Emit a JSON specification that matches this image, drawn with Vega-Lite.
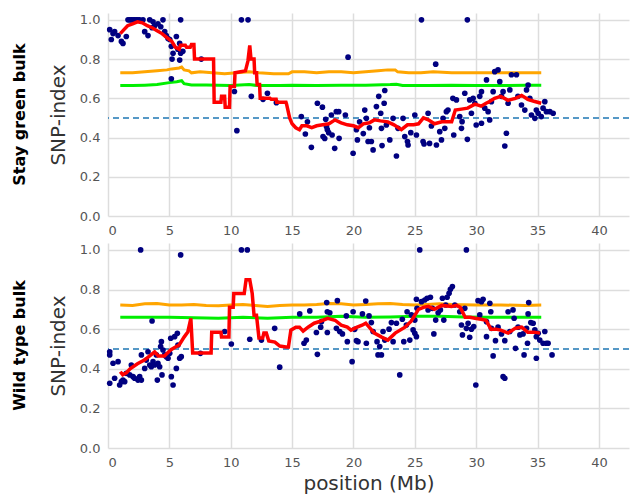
{
"$schema": "https://vega.github.io/schema/vega-lite/v6.json",
"background": "white",
"padding": {"left": 12, "top": 13, "right": 0, "bottom": 2},
"config": {
  "view": {"stroke": null},
  "font": "DejaVu Sans",
  "axis": {"grid": true, "gridColor": "#dddddd", "gridWidth": 1.5, "domain": false, "ticks": false, "labelFontSize": 13, "labelColor": "#555555", "titleFontSize": 20, "titleFontWeight": "normal", "titleColor": "#333333", "labelPadding": 8, "titlePadding": 11},
  "concat": {"spacing": 6}
},
"datasets": {
"sg": [
{"s":"ref","x":0,"y":0.5},
{"s":"p","x":0.14,"y":0.95},{"s":"p","x":0.27,"y":0.90},{"s":"p","x":0.41,"y":0.93},{"s":"p","x":0.54,"y":0.94},{"s":"p","x":0.82,"y":0.92},{"s":"p","x":1.09,"y":0.89},{"s":"p","x":1.22,"y":0.88},{"s":"p","x":1.49,"y":0.915},{"s":"p","x":1.63,"y":1.0},{"s":"p","x":1.77,"y":1.0},{"s":"p","x":1.9,"y":1.0},{"s":"p","x":2.04,"y":1.0},{"s":"p","x":2.17,"y":1.0},{"s":"p","x":2.31,"y":1.0},{"s":"p","x":2.44,"y":1.0},{"s":"p","x":2.58,"y":1.0},{"s":"p","x":2.85,"y":1.0},{"s":"p","x":2.99,"y":0.94},{"s":"p","x":3.26,"y":0.92},{"s":"p","x":3.4,"y":1.0},{"s":"p","x":3.59,"y":0.96},{"s":"p","x":3.67,"y":0.99},{"s":"p","x":3.8,"y":0.97},{"s":"p","x":4.07,"y":0.98},{"s":"p","x":4.3,"y":0.965},{"s":"p","x":4.48,"y":1.0},{"s":"p","x":4.62,"y":0.94},{"s":"p","x":4.75,"y":0.92},{"s":"p","x":4.89,"y":0.905},{"s":"p","x":5.03,"y":0.90},{"s":"p","x":5.16,"y":0.865},{"s":"p","x":5.22,"y":0.80},{"s":"p","x":5.3,"y":0.83},{"s":"p","x":5.57,"y":0.915},{"s":"p","x":5.7,"y":0.85},{"s":"p","x":5.84,"y":0.88},{"s":"p","x":5.84,"y":0.795},{"s":"p","x":5.92,"y":0.83},{"s":"p","x":5.92,"y":1.0},{"s":"p","x":6.1,"y":0.84},{"s":"p","x":5.16,"y":0.70},{"s":"p","x":7.6,"y":0.80},{"s":"p","x":10.3,"y":0.635},{"s":"p","x":10.5,"y":0.435},{"s":"p","x":10.87,"y":1.0},{"s":"p","x":11.41,"y":1.0},{"s":"p","x":11.68,"y":0.61},{"s":"p","x":12.63,"y":0.595},{"s":"p","x":12.99,"y":0.626},{"s":"p","x":13.72,"y":0.578},{"s":"p","x":15.75,"y":0.507},{"s":"p","x":16.08,"y":0.418},{"s":"p","x":16.25,"y":0.48},{"s":"p","x":16.57,"y":0.35},{"s":"p","x":17.06,"y":0.575},{"s":"p","x":17.47,"y":0.555},{"s":"p","x":17.52,"y":0.405},{"s":"p","x":17.66,"y":0.395},{"s":"p","x":17.74,"y":0.493},{"s":"p","x":17.8,"y":0.456},{"s":"p","x":17.87,"y":0.44},{"s":"p","x":17.98,"y":0.425},{"s":"p","x":18.2,"y":0.515},{"s":"p","x":18.26,"y":0.413},{"s":"p","x":18.47,"y":0.345},{"s":"p","x":18.6,"y":0.532},{"s":"p","x":18.8,"y":0.532},{"s":"p","x":18.83,"y":0.396},{"s":"p","x":19.34,"y":0.515},{"s":"p","x":19.56,"y":0.81},{"s":"p","x":19.97,"y":0.32},{"s":"p","x":20.24,"y":0.44},{"s":"p","x":20.32,"y":0.388},{"s":"p","x":20.5,"y":0.48},{"s":"p","x":20.8,"y":0.42},{"s":"p","x":20.92,"y":0.54},{"s":"p","x":21.05,"y":0.498},{"s":"p","x":21.19,"y":0.38},{"s":"p","x":21.3,"y":0.45},{"s":"p","x":21.46,"y":0.38},{"s":"p","x":21.6,"y":0.337},{"s":"p","x":21.87,"y":0.558},{"s":"p","x":22.06,"y":0.61},{"s":"p","x":22.22,"y":0.524},{"s":"p","x":22.28,"y":0.447},{"s":"p","x":22.33,"y":0.359},{"s":"p","x":22.5,"y":0.575},{"s":"p","x":22.55,"y":0.64},{"s":"p","x":22.68,"y":0.464},{"s":"p","x":22.96,"y":0.388},{"s":"p","x":23.23,"y":0.498},{"s":"p","x":23.5,"y":0.306},{"s":"p","x":23.63,"y":0.447},{"s":"p","x":24.04,"y":0.498},{"s":"p","x":24.18,"y":0.405},{"s":"p","x":24.4,"y":0.38},{"s":"p","x":24.45,"y":0.362},{"s":"p","x":24.67,"y":0.425},{"s":"p","x":25.0,"y":0.515},{"s":"p","x":25.13,"y":0.413},{"s":"p","x":25.54,"y":1.0},{"s":"p","x":25.67,"y":0.38},{"s":"p","x":25.75,"y":0.367},{"s":"p","x":26.08,"y":0.524},{"s":"p","x":26.2,"y":0.37},{"s":"p","x":26.35,"y":0.459},{"s":"p","x":26.7,"y":0.774},{"s":"p","x":26.76,"y":0.362},{"s":"p","x":27.03,"y":0.43},{"s":"p","x":27.17,"y":0.388},{"s":"p","x":27.3,"y":0.498},{"s":"p","x":27.44,"y":0.447},{"s":"p","x":27.57,"y":0.532},{"s":"p","x":27.7,"y":0.54},{"s":"p","x":28.1,"y":0.6},{"s":"p","x":28.17,"y":0.413},{"s":"p","x":28.39,"y":0.592},{"s":"p","x":28.66,"y":0.507},{"s":"p","x":28.8,"y":0.447},{"s":"p","x":28.85,"y":0.481},{"s":"p","x":29.07,"y":0.626},{"s":"p","x":29.28,"y":1.0},{"s":"p","x":29.28,"y":0.391},{"s":"p","x":29.47,"y":0.592},{"s":"p","x":29.61,"y":0.524},{"s":"p","x":29.75,"y":0.6},{"s":"p","x":29.89,"y":0.575},{"s":"p","x":30.0,"y":0.464},{"s":"p","x":30.29,"y":0.61},{"s":"p","x":30.43,"y":0.473},{"s":"p","x":30.43,"y":0.634},{"s":"p","x":30.7,"y":0.55},{"s":"p","x":30.84,"y":0.694},{"s":"p","x":30.97,"y":0.532},{"s":"p","x":31.1,"y":0.49},{"s":"p","x":31.24,"y":0.583},{"s":"p","x":31.38,"y":0.634},{"s":"p","x":31.51,"y":0.736},{"s":"p","x":31.78,"y":0.745},{"s":"p","x":31.92,"y":0.685},{"s":"p","x":32.06,"y":0.61},{"s":"p","x":32.19,"y":0.634},{"s":"p","x":32.33,"y":0.357},{"s":"p","x":32.46,"y":0.422},{"s":"p","x":32.6,"y":0.575},{"s":"p","x":32.74,"y":0.643},{"s":"p","x":32.87,"y":0.72},{"s":"p","x":33.28,"y":0.72},{"s":"p","x":33.4,"y":0.61},{"s":"p","x":33.69,"y":0.566},{"s":"p","x":33.96,"y":0.54},{"s":"p","x":34.1,"y":0.643},{"s":"p","x":34.23,"y":0.668},{"s":"p","x":34.37,"y":0.6},{"s":"p","x":34.5,"y":0.515},{"s":"p","x":34.78,"y":0.498},{"s":"p","x":34.9,"y":0.54},{"s":"p","x":35.05,"y":0.524},{"s":"p","x":35.3,"y":0.507},{"s":"p","x":35.45,"y":0.55},{"s":"p","x":35.59,"y":0.583},{"s":"p","x":35.72,"y":0.532},{"s":"p","x":36.0,"y":0.532},{"s":"p","x":36.27,"y":0.524},
{"s":"r","x":1.0,"y":0.93},{"s":"r","x":1.3,"y":0.95},{"s":"r","x":1.6,"y":0.97},{"s":"r","x":2.0,"y":0.98},{"s":"r","x":2.4,"y":0.99},{"s":"r","x":2.8,"y":0.985},{"s":"r","x":3.2,"y":0.97},{"s":"r","x":3.6,"y":0.96},{"s":"r","x":4.0,"y":0.945},{"s":"r","x":4.4,"y":0.93},{"s":"r","x":4.8,"y":0.91},{"s":"r","x":5.2,"y":0.89},{"s":"r","x":5.5,"y":0.86},{"s":"r","x":5.8,"y":0.85},{"s":"r","x":5.9,"y":0.87},{"s":"r","x":6.3,"y":0.87},{"s":"r","x":6.4,"y":0.86},{"s":"r","x":6.7,"y":0.86},{"s":"r","x":6.8,"y":0.875},{"s":"r","x":7.0,"y":0.875},{"s":"r","x":7.05,"y":0.80},{"s":"r","x":8.6,"y":0.80},{"s":"r","x":8.65,"y":0.58},{"s":"r","x":9.2,"y":0.58},{"s":"r","x":9.25,"y":0.61},{"s":"r","x":9.5,"y":0.61},{"s":"r","x":9.55,"y":0.555},{"s":"r","x":9.9,"y":0.555},{"s":"r","x":9.95,"y":0.66},{"s":"r","x":10.3,"y":0.66},{"s":"r","x":10.35,"y":0.73},{"s":"r","x":10.8,"y":0.735},{"s":"r","x":11.2,"y":0.74},{"s":"r","x":11.4,"y":0.79},{"s":"r","x":11.55,"y":0.87},{"s":"r","x":11.65,"y":0.80},{"s":"r","x":11.9,"y":0.80},{"s":"r","x":11.95,"y":0.73},{"s":"r","x":12.1,"y":0.73},{"s":"r","x":12.15,"y":0.67},{"s":"r","x":12.35,"y":0.67},{"s":"r","x":12.4,"y":0.60},{"s":"r","x":13.2,"y":0.60},{"s":"r","x":13.3,"y":0.595},{"s":"r","x":13.7,"y":0.595},{"s":"r","x":13.75,"y":0.58},{"s":"r","x":14.5,"y":0.58},{"s":"r","x":14.55,"y":0.57},{"s":"r","x":14.8,"y":0.50},{"s":"r","x":15.0,"y":0.47},{"s":"r","x":15.3,"y":0.45},{"s":"r","x":15.6,"y":0.44},{"s":"r","x":15.8,"y":0.46},{"s":"r","x":16.2,"y":0.46},{"s":"r","x":16.6,"y":0.45},{"s":"r","x":17.0,"y":0.46},{"s":"r","x":17.5,"y":0.465},{"s":"r","x":18.0,"y":0.47},{"s":"r","x":18.5,"y":0.49},{"s":"r","x":19.0,"y":0.475},{"s":"r","x":19.5,"y":0.465},{"s":"r","x":20.0,"y":0.46},{"s":"r","x":20.4,"y":0.45},{"s":"r","x":20.8,"y":0.47},{"s":"r","x":21.3,"y":0.475},{"s":"r","x":21.7,"y":0.49},{"s":"r","x":22.2,"y":0.485},{"s":"r","x":22.8,"y":0.48},{"s":"r","x":23.3,"y":0.465},{"s":"r","x":23.9,"y":0.44},{"s":"r","x":24.4,"y":0.465},{"s":"r","x":24.9,"y":0.465},{"s":"r","x":25.3,"y":0.47},{"s":"r","x":25.7,"y":0.50},{"s":"r","x":26.1,"y":0.49},{"s":"r","x":26.6,"y":0.47},{"s":"r","x":27.2,"y":0.48},{"s":"r","x":28.0,"y":0.48},{"s":"r","x":28.3,"y":0.54},{"s":"r","x":28.8,"y":0.545},{"s":"r","x":29.3,"y":0.55},{"s":"r","x":29.9,"y":0.57},{"s":"r","x":30.4,"y":0.56},{"s":"r","x":30.8,"y":0.575},{"s":"r","x":31.0,"y":0.58},{"s":"r","x":31.5,"y":0.60},{"s":"r","x":32.0,"y":0.61},{"s":"r","x":32.6,"y":0.59},{"s":"r","x":33.2,"y":0.60},{"s":"r","x":33.7,"y":0.615},{"s":"r","x":34.2,"y":0.595},{"s":"r","x":34.7,"y":0.585},{"s":"r","x":35.3,"y":0.575},
{"s":"o","x":1.0,"y":0.73},{"s":"o","x":2,"y":0.73},{"s":"o","x":3,"y":0.735},{"s":"o","x":4,"y":0.74},{"s":"o","x":4.8,"y":0.745},{"s":"o","x":5.2,"y":0.75},{"s":"o","x":5.8,"y":0.755},{"s":"o","x":6.0,"y":0.76},{"s":"o","x":6.2,"y":0.745},{"s":"o","x":6.6,"y":0.74},{"s":"o","x":6.8,"y":0.73},{"s":"o","x":7.5,"y":0.735},{"s":"o","x":8.5,"y":0.73},{"s":"o","x":9.5,"y":0.725},{"s":"o","x":10.5,"y":0.73},{"s":"o","x":11.5,"y":0.735},{"s":"o","x":12.3,"y":0.73},{"s":"o","x":13.5,"y":0.725},{"s":"o","x":14.7,"y":0.725},{"s":"o","x":15.0,"y":0.735},{"s":"o","x":16,"y":0.735},{"s":"o","x":17,"y":0.73},{"s":"o","x":18,"y":0.735},{"s":"o","x":19,"y":0.735},{"s":"o","x":20,"y":0.73},{"s":"o","x":21,"y":0.735},{"s":"o","x":22,"y":0.74},{"s":"o","x":22.8,"y":0.745},{"s":"o","x":23.4,"y":0.745},{"s":"o","x":23.6,"y":0.735},{"s":"o","x":24.5,"y":0.73},{"s":"o","x":25.5,"y":0.73},{"s":"o","x":26.5,"y":0.735},{"s":"o","x":28,"y":0.73},{"s":"o","x":30,"y":0.73},{"s":"o","x":32,"y":0.73},{"s":"o","x":34,"y":0.73},{"s":"o","x":35.3,"y":0.73},
{"s":"g","x":1.0,"y":0.665},{"s":"g","x":2,"y":0.665},{"s":"g","x":3,"y":0.667},{"s":"g","x":4,"y":0.67},{"s":"g","x":5,"y":0.68},{"s":"g","x":5.6,"y":0.685},{"s":"g","x":6.0,"y":0.69},{"s":"g","x":6.2,"y":0.675},{"s":"g","x":6.8,"y":0.668},{"s":"g","x":8,"y":0.668},{"s":"g","x":10,"y":0.665},{"s":"g","x":11.5,"y":0.67},{"s":"g","x":12.2,"y":0.665},{"s":"g","x":14,"y":0.665},{"s":"g","x":15,"y":0.667},{"s":"g","x":17,"y":0.665},{"s":"g","x":19,"y":0.667},{"s":"g","x":21,"y":0.667},{"s":"g","x":23,"y":0.67},{"s":"g","x":23.5,"y":0.672},{"s":"g","x":24,"y":0.665},{"s":"g","x":26,"y":0.665},{"s":"g","x":28,"y":0.667},{"s":"g","x":30,"y":0.665},{"s":"g","x":32,"y":0.665},{"s":"g","x":34,"y":0.667},{"s":"g","x":35.3,"y":0.667}
],
"wt": [
{"s":"ref","x":0,"y":0.5},
{"s":"p","x":0.14,"y":0.486},{"s":"p","x":0.14,"y":0.47},{"s":"p","x":0.14,"y":0.327},{"s":"p","x":0.41,"y":0.428},{"s":"p","x":0.54,"y":0.352},{"s":"p","x":0.82,"y":0.436},{"s":"p","x":0.95,"y":0.318},{"s":"p","x":1.09,"y":0.335},{"s":"p","x":1.22,"y":0.343},{"s":"p","x":1.36,"y":0.335},{"s":"p","x":1.49,"y":0.377},{"s":"p","x":1.77,"y":0.369},{"s":"p","x":1.9,"y":0.419},{"s":"p","x":2.04,"y":0.36},{"s":"p","x":2.17,"y":0.352},{"s":"p","x":2.44,"y":0.343},{"s":"p","x":2.58,"y":0.36},{"s":"p","x":2.72,"y":0.343},{"s":"p","x":2.66,"y":1.0},{"s":"p","x":2.72,"y":0.47},{"s":"p","x":2.99,"y":0.402},{"s":"p","x":3.12,"y":0.444},{"s":"p","x":3.26,"y":0.486},{"s":"p","x":3.4,"y":0.419},{"s":"p","x":3.53,"y":0.41},{"s":"p","x":3.59,"y":0.641},{"s":"p","x":3.67,"y":0.436},{"s":"p","x":3.8,"y":0.419},{"s":"p","x":3.94,"y":0.47},{"s":"p","x":4.02,"y":0.343},{"s":"p","x":4.07,"y":0.428},{"s":"p","x":4.21,"y":0.41},{"s":"p","x":4.29,"y":0.512},{"s":"p","x":4.35,"y":0.537},{"s":"p","x":4.4,"y":0.369},{"s":"p","x":4.48,"y":0.495},{"s":"p","x":4.62,"y":0.47},{"s":"p","x":4.75,"y":0.461},{"s":"p","x":4.89,"y":0.453},{"s":"p","x":5.03,"y":0.478},{"s":"p","x":5.11,"y":0.554},{"s":"p","x":5.16,"y":0.36},{"s":"p","x":5.3,"y":0.318},{"s":"p","x":5.43,"y":0.562},{"s":"p","x":5.57,"y":0.402},{"s":"p","x":5.65,"y":0.579},{"s":"p","x":5.7,"y":0.52},{"s":"p","x":5.84,"y":0.453},{"s":"p","x":5.92,"y":0.975},{"s":"p","x":5.97,"y":0.461},{"s":"p","x":7.53,"y":0.478},{"s":"p","x":9.51,"y":0.588},{"s":"p","x":10.05,"y":0.525},{"s":"p","x":10.87,"y":1.0},{"s":"p","x":11.35,"y":1.0},{"s":"p","x":11.55,"y":0.549},{"s":"p","x":12.5,"y":0.545},{"s":"p","x":13.58,"y":0.604},{"s":"p","x":13.99,"y":0.408},{"s":"p","x":15.62,"y":0.677},{"s":"p","x":15.97,"y":0.529},{"s":"p","x":16.16,"y":0.545},{"s":"p","x":16.44,"y":0.692},{"s":"p","x":16.98,"y":0.583},{"s":"p","x":17.06,"y":0.473},{"s":"p","x":17.33,"y":0.61},{"s":"p","x":17.39,"y":0.638},{"s":"p","x":17.82,"y":0.734},{"s":"p","x":17.87,"y":0.688},{"s":"p","x":17.87,"y":0.583},{"s":"p","x":18.07,"y":0.683},{"s":"p","x":18.61,"y":0.604},{"s":"p","x":18.69,"y":0.744},{"s":"p","x":18.88,"y":0.588},{"s":"p","x":19.1,"y":0.576},{"s":"p","x":19.42,"y":0.667},{"s":"p","x":19.5,"y":0.537},{"s":"p","x":19.89,"y":0.436},{"s":"p","x":19.97,"y":0.688},{"s":"p","x":20.1,"y":0.599},{"s":"p","x":20.24,"y":0.542},{"s":"p","x":20.37,"y":0.537},{"s":"p","x":20.73,"y":0.677},{"s":"p","x":21.0,"y":0.742},{"s":"p","x":21.05,"y":0.529},{"s":"p","x":21.27,"y":0.667},{"s":"p","x":21.46,"y":0.633},{"s":"p","x":21.6,"y":0.588},{"s":"p","x":21.92,"y":0.537},{"s":"p","x":22.0,"y":0.47},{"s":"p","x":22.14,"y":0.512},{"s":"p","x":22.28,"y":0.47},{"s":"p","x":22.41,"y":0.588},{"s":"p","x":22.55,"y":0.545},{"s":"p","x":22.9,"y":0.6},{"s":"p","x":23.09,"y":0.633},{"s":"p","x":23.23,"y":0.537},{"s":"p","x":23.5,"y":0.63},{"s":"p","x":23.77,"y":0.369},{"s":"p","x":23.98,"y":0.65},{"s":"p","x":24.1,"y":0.537},{"s":"p","x":24.31,"y":0.621},{"s":"p","x":24.37,"y":0.688},{"s":"p","x":24.59,"y":0.545},{"s":"p","x":24.72,"y":0.672},{"s":"p","x":24.86,"y":0.596},{"s":"p","x":25.0,"y":0.646},{"s":"p","x":25.0,"y":0.579},{"s":"p","x":25.13,"y":0.562},{"s":"p","x":25.13,"y":0.751},{"s":"p","x":25.18,"y":0.705},{"s":"p","x":25.4,"y":1.0},{"s":"p","x":25.54,"y":0.739},{"s":"p","x":25.81,"y":0.747},{"s":"p","x":26.0,"y":0.756},{"s":"p","x":26.08,"y":0.697},{"s":"p","x":26.27,"y":0.761},{"s":"p","x":26.43,"y":0.705},{"s":"p","x":26.55,"y":0.576},{"s":"p","x":26.7,"y":0.646},{"s":"p","x":26.9,"y":0.683},{"s":"p","x":27.08,"y":0.697},{"s":"p","x":27.25,"y":0.756},{"s":"p","x":27.36,"y":0.646},{"s":"p","x":27.52,"y":0.722},{"s":"p","x":27.63,"y":0.761},{"s":"p","x":27.79,"y":0.781},{"s":"p","x":27.9,"y":0.801},{"s":"p","x":28.06,"y":0.815},{"s":"p","x":28.26,"y":0.722},{"s":"p","x":28.66,"y":0.688},{"s":"p","x":28.8,"y":0.621},{"s":"p","x":28.88,"y":0.571},{"s":"p","x":29.07,"y":0.705},{"s":"p","x":29.2,"y":1.0},{"s":"p","x":29.2,"y":0.604},{"s":"p","x":29.34,"y":0.63},{"s":"p","x":29.47,"y":0.559},{"s":"p","x":29.61,"y":0.6},{"s":"p","x":29.8,"y":0.613},{"s":"p","x":29.97,"y":0.318},{"s":"p","x":30.15,"y":0.744},{"s":"p","x":30.29,"y":0.672},{"s":"p","x":30.43,"y":0.739},{"s":"p","x":30.56,"y":0.751},{"s":"p","x":30.84,"y":0.638},{"s":"p","x":30.84,"y":0.562},{"s":"p","x":31.11,"y":0.731},{"s":"p","x":31.19,"y":0.688},{"s":"p","x":31.24,"y":0.604},{"s":"p","x":31.38,"y":0.465},{"s":"p","x":31.57,"y":0.542},{"s":"p","x":31.78,"y":0.61},{"s":"p","x":32.06,"y":0.576},{"s":"p","x":32.19,"y":0.36},{"s":"p","x":32.33,"y":0.352},{"s":"p","x":32.33,"y":0.542},{"s":"p","x":32.6,"y":0.688},{"s":"p","x":32.74,"y":0.588},{"s":"p","x":33.0,"y":0.697},{"s":"p","x":33.09,"y":0.655},{"s":"p","x":33.2,"y":0.503},{"s":"p","x":33.41,"y":0.61},{"s":"p","x":33.56,"y":0.571},{"s":"p","x":33.82,"y":0.576},{"s":"p","x":33.9,"y":0.47},{"s":"p","x":34.1,"y":0.604},{"s":"p","x":34.18,"y":0.529},{"s":"p","x":34.23,"y":0.677},{"s":"p","x":34.28,"y":0.734},{"s":"p","x":34.45,"y":0.633},{"s":"p","x":34.64,"y":0.63},{"s":"p","x":34.78,"y":0.596},{"s":"p","x":34.9,"y":0.562},{"s":"p","x":34.9,"y":0.453},{"s":"p","x":35.05,"y":0.579},{"s":"p","x":35.18,"y":0.545},{"s":"p","x":35.45,"y":0.529},{"s":"p","x":35.59,"y":0.588},{"s":"p","x":35.72,"y":0.529},{"s":"p","x":35.86,"y":0.529},{"s":"p","x":36.18,"y":0.47},
{"s":"r","x":1.0,"y":0.385},{"s":"r","x":1.2,"y":0.37},{"s":"r","x":1.5,"y":0.38},{"s":"r","x":1.8,"y":0.40},{"s":"r","x":2.4,"y":0.425},{"s":"r","x":3.0,"y":0.445},{"s":"r","x":3.5,"y":0.47},{"s":"r","x":3.8,"y":0.485},{"s":"r","x":4.1,"y":0.465},{"s":"r","x":4.6,"y":0.465},{"s":"r","x":5.1,"y":0.495},{"s":"r","x":5.5,"y":0.51},{"s":"r","x":5.8,"y":0.52},{"s":"r","x":6.2,"y":0.56},{"s":"r","x":6.5,"y":0.585},{"s":"r","x":6.75,"y":0.655},{"s":"r","x":6.9,"y":0.48},{"s":"r","x":8.4,"y":0.48},{"s":"r","x":8.45,"y":0.585},{"s":"r","x":9.2,"y":0.585},{"s":"r","x":9.25,"y":0.56},{"s":"r","x":9.85,"y":0.56},{"s":"r","x":9.9,"y":0.71},{"s":"r","x":10.2,"y":0.71},{"s":"r","x":10.25,"y":0.78},{"s":"r","x":11.1,"y":0.78},{"s":"r","x":11.25,"y":0.85},{"s":"r","x":11.55,"y":0.85},{"s":"r","x":11.75,"y":0.78},{"s":"r","x":11.9,"y":0.67},{"s":"r","x":12.1,"y":0.67},{"s":"r","x":12.3,"y":0.555},{"s":"r","x":12.6,"y":0.555},{"s":"r","x":12.7,"y":0.58},{"s":"r","x":12.9,"y":0.58},{"s":"r","x":13.1,"y":0.54},{"s":"r","x":13.6,"y":0.535},{"s":"r","x":14.0,"y":0.515},{"s":"r","x":14.5,"y":0.51},{"s":"r","x":14.7,"y":0.51},{"s":"r","x":14.9,"y":0.595},{"s":"r","x":15.3,"y":0.61},{"s":"r","x":15.6,"y":0.61},{"s":"r","x":15.9,"y":0.59},{"s":"r","x":16.3,"y":0.61},{"s":"r","x":16.8,"y":0.63},{"s":"r","x":17.3,"y":0.64},{"s":"r","x":17.9,"y":0.655},{"s":"r","x":18.5,"y":0.645},{"s":"r","x":19.0,"y":0.62},{"s":"r","x":19.5,"y":0.61},{"s":"r","x":19.8,"y":0.595},{"s":"r","x":20.3,"y":0.61},{"s":"r","x":20.7,"y":0.62},{"s":"r","x":21.0,"y":0.63},{"s":"r","x":21.7,"y":0.58},{"s":"r","x":22.3,"y":0.56},{"s":"r","x":22.8,"y":0.545},{"s":"r","x":23.4,"y":0.58},{"s":"r","x":24.2,"y":0.61},{"s":"r","x":24.7,"y":0.64},{"s":"r","x":25.3,"y":0.70},{"s":"r","x":25.7,"y":0.71},{"s":"r","x":26.1,"y":0.715},{"s":"r","x":26.6,"y":0.70},{"s":"r","x":27.2,"y":0.72},{"s":"r","x":28.0,"y":0.715},{"s":"r","x":28.4,"y":0.72},{"s":"r","x":28.7,"y":0.71},{"s":"r","x":29.1,"y":0.66},{"s":"r","x":29.5,"y":0.66},{"s":"r","x":29.9,"y":0.655},{"s":"r","x":30.4,"y":0.65},{"s":"r","x":30.8,"y":0.645},{"s":"r","x":31.2,"y":0.60},{"s":"r","x":31.6,"y":0.60},{"s":"r","x":32.0,"y":0.595},{"s":"r","x":32.6,"y":0.58},{"s":"r","x":33.2,"y":0.605},{"s":"r","x":33.7,"y":0.61},{"s":"r","x":34.2,"y":0.585},{"s":"r","x":34.7,"y":0.585},{"s":"r","x":35.2,"y":0.58},
{"s":"o","x":1,"y":0.722},{"s":"o","x":2,"y":0.72},{"s":"o","x":3,"y":0.728},{"s":"o","x":4,"y":0.73},{"s":"o","x":5,"y":0.722},{"s":"o","x":6,"y":0.722},{"s":"o","x":7,"y":0.725},{"s":"o","x":8,"y":0.72},{"s":"o","x":9,"y":0.718},{"s":"o","x":10,"y":0.722},{"s":"o","x":11,"y":0.725},{"s":"o","x":12,"y":0.72},{"s":"o","x":13,"y":0.715},{"s":"o","x":14,"y":0.72},{"s":"o","x":15,"y":0.722},{"s":"o","x":16,"y":0.722},{"s":"o","x":17,"y":0.725},{"s":"o","x":18,"y":0.73},{"s":"o","x":19,"y":0.728},{"s":"o","x":20,"y":0.722},{"s":"o","x":21,"y":0.725},{"s":"o","x":22,"y":0.728},{"s":"o","x":23,"y":0.73},{"s":"o","x":24,"y":0.725},{"s":"o","x":25,"y":0.722},{"s":"o","x":26,"y":0.725},{"s":"o","x":27,"y":0.728},{"s":"o","x":28,"y":0.725},{"s":"o","x":30,"y":0.722},{"s":"o","x":32,"y":0.722},{"s":"o","x":34,"y":0.72},{"s":"o","x":35.3,"y":0.722},
{"s":"g","x":1,"y":0.66},{"s":"g","x":3,"y":0.66},{"s":"g","x":5,"y":0.66},{"s":"g","x":7,"y":0.658},{"s":"g","x":9,"y":0.655},{"s":"g","x":11,"y":0.66},{"s":"g","x":13,"y":0.655},{"s":"g","x":15,"y":0.66},{"s":"g","x":17,"y":0.66},{"s":"g","x":19,"y":0.665},{"s":"g","x":21,"y":0.66},{"s":"g","x":23,"y":0.662},{"s":"g","x":25,"y":0.665},{"s":"g","x":27,"y":0.665},{"s":"g","x":29,"y":0.662},{"s":"g","x":31,"y":0.66},{"s":"g","x":33,"y":0.66},{"s":"g","x":35.3,"y":0.66}
]
},
"vconcat": [
{
  "width": 521, "height": 203,
  "title": {"text": "Stay green bulk", "orient": "left", "anchor": "middle", "fontSize": 16, "fontWeight": "bold", "color": "#000000", "offset": 20},
  "data": {"name": "sg"},
  "layer": [
    {"transform": [{"filter": "datum.s === 'ref'"}], "mark": {"type": "rule", "color": "#1f77b4", "strokeDash": [6, 4], "strokeWidth": 1.6},
     "encoding": {"y": {"field": "y", "type": "quantitative", "scale": {"domain": [0, 1.035], "nice": false}, "axis": {"values": [0, 0.2, 0.4, 0.6, 0.8, 1.0], "format": ".1f", "title": "SNP-index"}}}},
    {"transform": [{"filter": "datum.s === 'o'"}], "mark": {"type": "line", "color": "#ffa500", "strokeWidth": 3},
     "encoding": {"x": {"field": "x", "type": "quantitative", "scale": {"domain": [0, 42.45], "nice": false}, "axis": {"values": [0, 5, 10, 15, 20, 25, 30, 35, 40], "title": null}}, "y": {"field": "y", "type": "quantitative"}}},
    {"transform": [{"filter": "datum.s === 'g'"}], "mark": {"type": "line", "color": "#00ee00", "strokeWidth": 3},
     "encoding": {"x": {"field": "x", "type": "quantitative"}, "y": {"field": "y", "type": "quantitative"}}},
    {"transform": [{"filter": "datum.s === 'p'"}], "mark": {"type": "circle", "color": "#000080", "opacity": 1, "size": 32},
     "encoding": {"x": {"field": "x", "type": "quantitative"}, "y": {"field": "y", "type": "quantitative"}}},
    {"transform": [{"filter": "datum.s === 'r'"}], "mark": {"type": "line", "color": "#ff0000", "strokeWidth": 3.5},
     "encoding": {"x": {"field": "x", "type": "quantitative"}, "y": {"field": "y", "type": "quantitative"}}}
  ]
},
{
  "width": 521, "height": 205,
  "title": {"text": "Wild type bulk", "orient": "left", "anchor": "middle", "fontSize": 16, "fontWeight": "bold", "color": "#000000", "offset": 20},
  "data": {"name": "wt"},
  "layer": [
    {"transform": [{"filter": "datum.s === 'ref'"}], "mark": {"type": "rule", "color": "#1f77b4", "strokeDash": [6, 4], "strokeWidth": 1.6},
     "encoding": {"y": {"field": "y", "type": "quantitative", "scale": {"domain": [0, 1.035], "nice": false}, "axis": {"values": [0, 0.2, 0.4, 0.6, 0.8, 1.0], "format": ".1f", "title": "SNP-index"}}}},
    {"transform": [{"filter": "datum.s === 'o'"}], "mark": {"type": "line", "color": "#ffa500", "strokeWidth": 3},
     "encoding": {"x": {"field": "x", "type": "quantitative", "scale": {"domain": [0, 42.45], "nice": false}, "axis": {"values": [0, 5, 10, 15, 20, 25, 30, 35, 40], "title": "position (Mb)", "titlePadding": 4}}, "y": {"field": "y", "type": "quantitative"}}},
    {"transform": [{"filter": "datum.s === 'g'"}], "mark": {"type": "line", "color": "#00ee00", "strokeWidth": 3},
     "encoding": {"x": {"field": "x", "type": "quantitative"}, "y": {"field": "y", "type": "quantitative"}}},
    {"transform": [{"filter": "datum.s === 'p'"}], "mark": {"type": "circle", "color": "#000080", "opacity": 1, "size": 32},
     "encoding": {"x": {"field": "x", "type": "quantitative"}, "y": {"field": "y", "type": "quantitative"}}},
    {"transform": [{"filter": "datum.s === 'r'"}], "mark": {"type": "line", "color": "#ff0000", "strokeWidth": 3.5},
     "encoding": {"x": {"field": "x", "type": "quantitative"}, "y": {"field": "y", "type": "quantitative"}}}
  ]
}
]
}
